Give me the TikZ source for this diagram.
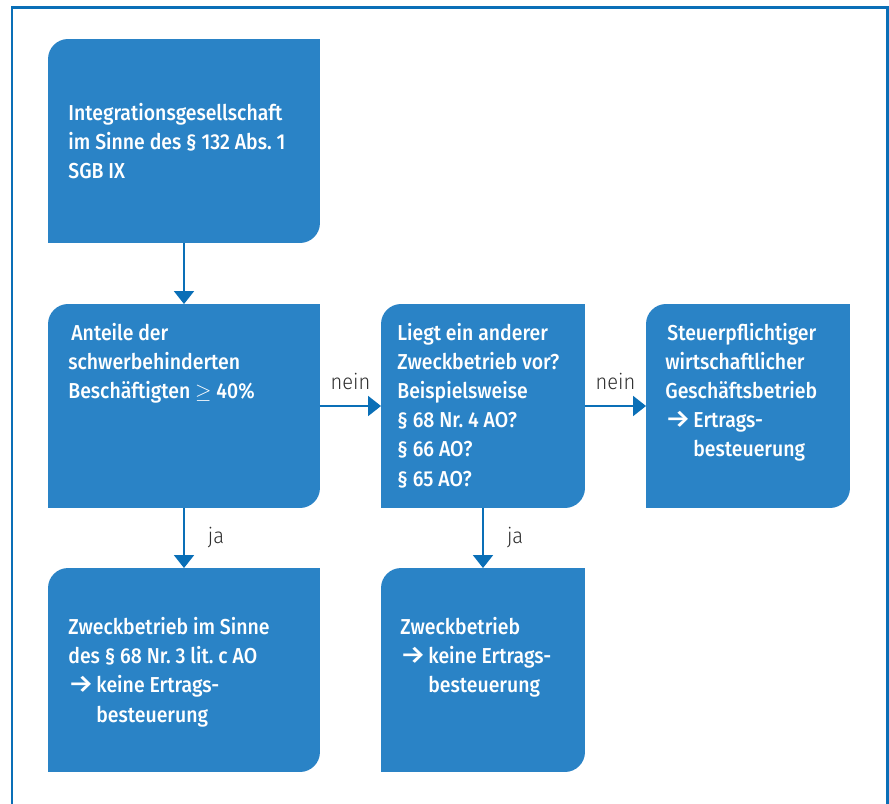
\documentclass[tikz,border=0pt]{standalone}
\usepackage{fontspec}
\setmainfont{Fira Sans}[FakeStretch=0.93]
\newfontfamily\boxfont{Fira Sans Medium}[FakeStretch=0.9]
\newfontfamily\answerfont{Fira Sans Light}[FakeStretch=0.93]
\usetikzlibrary{arrows.meta, calc}
\definecolor{box-blue}{HTML}{2A83C6}
\definecolor{line-blue}{HTML}{0A6FB7}
\definecolor{label-grey}{HTML}{2E2E2E}

\newcommand{\folge}[2]{\makebox[0.56cm][l]{\scalebox{1.45}[1.15]{→}}#1\\\hspace*{0.56cm}#2}

\tikzset{
	wide/.style={minimum width=5.44cm, minimum height=4.08cm, inner sep=0pt, outer sep=0pt},
	narrow/.style={wide, minimum width=4.08cm},
	boxtext/.style={anchor=north west, inner sep=0pt, align=left, text=white, font=\boxfont\fontsize{12.3}{16.6}\selectfont, execute at begin node={\rule{0pt}{11pt}}},
	flow/.style={line-blue, line width=0.04cm, -{Triangle[width=0.4cm, length=0.26cm]}},
	answer/.style={inner sep=0pt, text=label-grey, font=\answerfont\fontsize{12.3}{16.6}\selectfont}
}

\begin{document}
\begin{tikzpicture}[x=0.02cm, y=0.02cm]
					\useasboundingbox (0,0) rectangle (889,-804);
					\draw[line-blue, line width=0.06cm] (12,-804) -- (12,-8) -- (887,-8) -- (887,-804);
					
					\node[wide] at (184,-141) (integ) {};
					\node[wide] at (184,-406) (anteil) {};
					\node[narrow] at (483,-406) (anderer) {};
					\node[narrow] at (748,-406) (stpfl) {};
					\node[wide] at (184,-670) (zb-a) {};
					\node[narrow] at (483,-670) (zb-b) {};
					
					\foreach \b in {integ, anteil, anderer, stpfl, zb-a, zb-b}
						\fill[box-blue] (\b.south west) -- ($(\b.north west)+(0,-0.4cm)$) arc[start angle=180, end angle=90, radius=0.4cm] -- (\b.north east) -- ($(\b.south east)+(0,0.4cm)$) arc[start angle=0, end angle=-90, radius=0.4cm] -- cycle;
					
					\node[boxtext] at ($(integ.north west)+(20,-64)$) {Integrationsgesellschaft\\im Sinne des §~132 Abs.~1\\SGB IX};
					\node[boxtext] at ($(anteil.north west)+(20,-18.6)$) {\hspace*{0.06cm}Anteile der\\schwerbehinderten\\Besch\"aftigten $\geq$ 40\%};
					\node[boxtext] at ($(anderer.north west)+(16,-18.6)$) {Liegt ein anderer\\Zweckbetrieb vor?\\Beispielsweise\\§~68 Nr.~4 AO?\\§~66 AO?\\§~65 AO?};
					\node[boxtext] at ($(stpfl.north west)+(19,-18.6)$) {\hspace*{0.04cm}Steuerpflichtiger\\wirtschaftlicher\\Gesch\"aftsbetrieb\\\folge{Ertrags-}{besteuerung}};
					\node[boxtext] at ($(zb-a.north west)+(20,-49)$) {Zweckbetrieb im Sinne\\des §~68 Nr.~3 lit.~c AO\\\folge{keine Ertrags-}{besteuerung}};
					\node[boxtext] at ($(zb-b.north west)+(19,-49)$) {Zweckbetrieb\\\folge{keine Ertrags-}{besteuerung}};
					
					\draw[flow] (integ) -- (anteil);
					\draw[flow] (anteil) -- node[answer, above=0.31cm] {nein} (anderer);
					\draw[flow] (anderer) -- node[answer, above=0.31cm] {nein} (stpfl);
					\draw[flow] (anteil) -- node[answer, right=0.46cm] {ja} (zb-a);
					\draw[flow] (anderer) -- node[answer, right=0.46cm] {ja} (zb-b);
				\end{tikzpicture}
\end{document}
